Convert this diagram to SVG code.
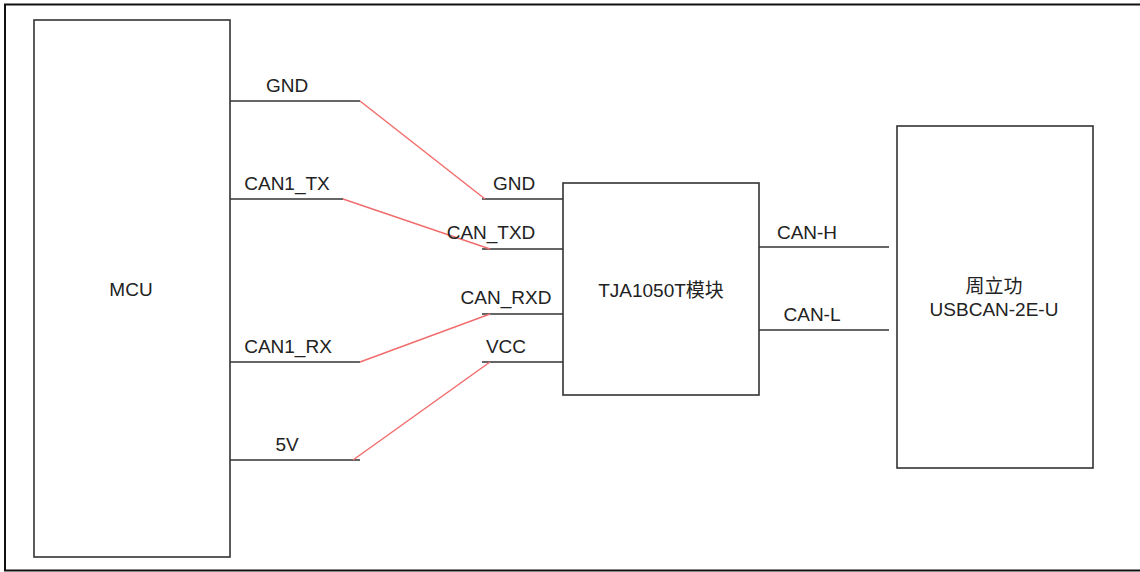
<svg xmlns="http://www.w3.org/2000/svg" width="1140" height="572" viewBox="0 0 1140 572">
<style>
.box{fill:#fff;stroke:#333;stroke-width:1.6}
.w{stroke:#333;stroke-width:1.6;fill:none}
.r{stroke:#f26d6d;stroke-width:1.5;fill:none}
text{font-family:"Liberation Sans","Noto Sans CJK SC",Arial,sans-serif;font-size:19px;fill:#222;text-anchor:middle}
</style>
<rect width="1140" height="572" fill="#fff"/>
<path d="M1141,4.5 H5 V570.5 H1141" fill="none" stroke="#111" stroke-width="2"/>
<g id="mcu">
<rect class="box" x="34" y="20" width="196" height="537"/>
<text x="131" y="296">MCU</text>
</g>
<g id="tja1050t">
<rect class="box" x="563" y="183" width="196" height="212"/>
<text x="661" y="297">TJA1050T模块</text>
</g>
<g id="usbcan">
<rect class="box" x="897" y="126" width="196" height="342"/>
<text x="994" y="293">周立功</text>
<text x="994" y="316">USBCAN-2E-U</text>
</g>
<g id="connectors">
<line class="w" x1="230" y1="101" x2="360" y2="101"/>
<line class="w" x1="230" y1="199" x2="343" y2="199"/>
<line class="w" x1="230" y1="362" x2="360" y2="362"/>
<line class="w" x1="230" y1="460" x2="360" y2="460"/>
<line class="w" x1="482" y1="199" x2="563" y2="199"/>
<line class="w" x1="482" y1="249" x2="563" y2="249"/>
<line class="w" x1="482" y1="314" x2="563" y2="314"/>
<line class="w" x1="482" y1="362" x2="563" y2="362"/>
<line class="w" x1="759" y1="247" x2="889" y2="247"/>
<line class="w" x1="759" y1="330" x2="889" y2="330"/>
<line class="r" x1="360" y1="101" x2="485" y2="199"/>
<line class="r" x1="343" y1="199" x2="490" y2="249"/>
<line class="r" x1="360" y1="362" x2="490" y2="314"/>
<line class="r" x1="353" y1="460" x2="490" y2="362"/>
<text x="287" y="92">GND</text>
<text x="287" y="190">CAN1_TX</text>
<text x="288" y="353">CAN1_RX</text>
<text x="287" y="451">5V</text>
<text x="514" y="190">GND</text>
<text x="491" y="239">CAN_TXD</text>
<text x="506" y="304">CAN_RXD</text>
<text x="506" y="353">VCC</text>
<text x="807" y="239">CAN-H</text>
<text x="812" y="321">CAN-L</text>
</g>
</svg>
